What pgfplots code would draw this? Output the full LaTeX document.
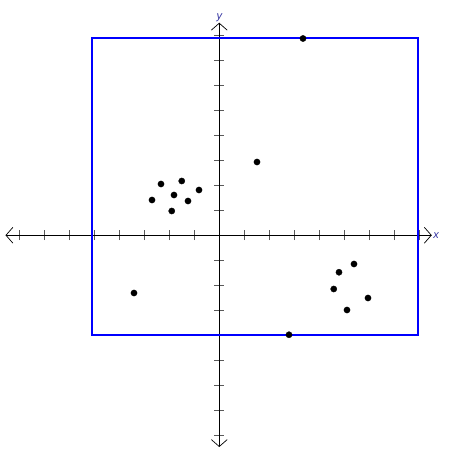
\documentclass[border=0pt]{standalone}
\usepackage{fontspec}
\setmainfont{Liberation Sans}
\usepackage{pgfplots}
\pgfplotsset{compat=1.18}
\usetikzlibrary{arrows.meta}
\begin{document}
\begin{tikzpicture}
\begin{axis}[
  x=25pt, y=25pt,
  xmin=-8.55, xmax=8.5, ymin=-8.47, ymax=8.5,
  axis lines=middle,
  every inner x axis line/.append style={{Straight Barb[length=7pt,width=16pt,line width=0.7pt]}-{Straight Barb[length=7pt,width=16pt,line width=0.7pt]}, line width=0.8pt, black},
  every inner y axis line/.append style={{Straight Barb[length=7pt,width=16pt,line width=0.7pt]}-{Straight Barb[length=7pt,width=16pt,line width=0.7pt]}, line width=0.8pt, black},
  xtick={-8,-7,-6,-5,-4,-3,-2,-1,1,2,3,4,5,6,7,8},
  ytick={-8,-7,-6,-5,-4,-3,-2,-1,1,2,3,4,5,6,7,8},
  xticklabel=\empty, yticklabel=\empty,
  major tick length=10pt,
  tick align=center,
  tick style={black!65, line width=0.6pt},
  xlabel={\itshape x}, ylabel={\itshape y},
  every axis x label/.style={at={(ticklabel* cs:1)}, anchor=west, inner sep=1.5pt, text={rgb,255:red,50;green,50;blue,160}, font=\fontsize{11}{12}\selectfont},
  every axis y label/.style={at={(ticklabel* cs:1)}, anchor=south, inner sep=1pt, text={rgb,255:red,50;green,50;blue,160}, font=\fontsize{11}{12}\selectfont},
  clip=false,
]
\path (axis cs:-8.77,-8.83) rectangle (axis cs:9.19,9.41);
\addplot[only marks, mark=*, mark size=3.1pt, black] coordinates {
  (-2.33,2.05) (-1.50,2.17) (-0.81,1.81) (-1.81,1.61) (-2.69,1.41)
  (-1.25,1.37) (-1.90,0.97)
  (5.39,-1.15) (4.79,-1.48) (4.58,-2.15) (5.95,-2.51) (5.11,-2.99)
  (1.51,2.93) (-3.41,-2.31) (3.35,7.87) (2.79,-3.98)
};
\draw[color={rgb,255:red,0;green,0;blue,255}, line width=2pt] (axis cs:-5.1,-4.01) rectangle (axis cs:7.96,7.9);
\end{axis}
\end{tikzpicture}
\end{document}
